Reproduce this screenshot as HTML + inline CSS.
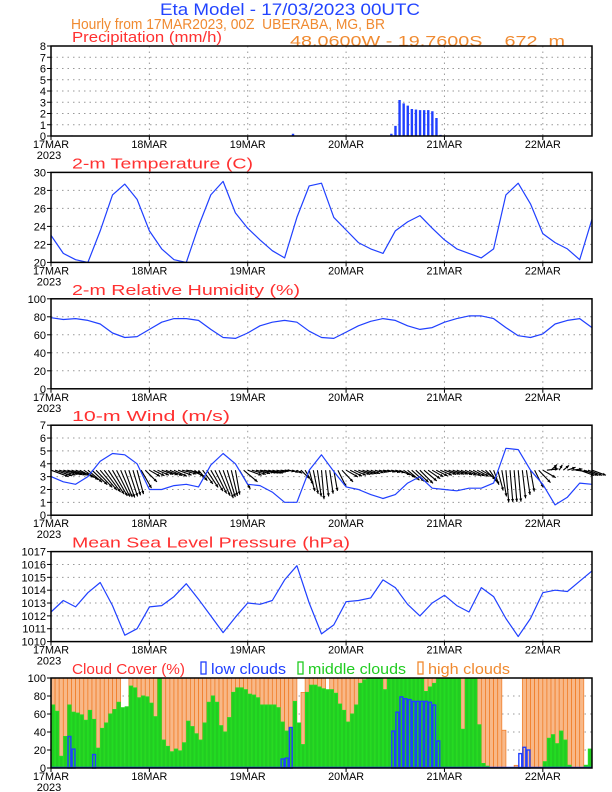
<!DOCTYPE html>
<html><head><meta charset="utf-8"><style>
body{margin:0;background:#fff;width:612px;height:792px;overflow:hidden}
svg{display:block}
text{font-family:"Liberation Sans",sans-serif}
</style></head><body>
<svg id="chart" width="612" height="792" viewBox="0 0 612 792" xmlns="http://www.w3.org/2000/svg">
<text x="160" y="15" font-size="17" fill="#2244ff" textLength="260" lengthAdjust="spacingAndGlyphs">Eta Model - 17/03/2023 00UTC</text>
<text x="71" y="29" font-size="15" fill="#f08a30" textLength="314" lengthAdjust="spacingAndGlyphs" xml:space="preserve">Hourly from 17MAR2023, 00Z  UBERABA, MG, BR</text>
<text x="290" y="46" font-size="15" fill="#f08a30" textLength="275" lengthAdjust="spacingAndGlyphs" xml:space="preserve">48.0600W - 19.7600S    672  m</text>
<g id="plots"></g>
</svg>
<script>
const hours3 = [0,3,6,9,12,15,18,21,24,27,30,33,36,39,42,45,48,51,54,57,60,63,66,69,72,75,78,81,84,87,90,93,96,99,102,105,108,111,114,117,120,123,126,129,132];
const dayLabels = ["17MAR","18MAR","19MAR","20MAR","21MAR","22MAR"];
const precip = [0,0,0,0,0,0.05,0,0,0,0,0,0,0,0,0,0,0,0,0,0,0,0,0,0,0,0,0,0,0,0,0,0,0,0,0,0,0,0,0,0,0,0,0,0,0,0,0,0,0,0,0,0,0,0,0,0,0,0,0,0.2,0,0,0,0,0,0,0,0,0,0,0,0,0,0,0,0,0,0,0,0,0,0,0,0.2,0.9,3.2,2.9,2.7,2.4,2.35,2.3,2.3,2.3,2.2,1.6,0.1,0,0,0,0,0,0,0,0,0,0,0,0,0,0,0,0,0,0,0,0,0,0,0,0.05,0,0,0,0,0,0,0,0,0,0,0,0,0,0];
const temp = [23,21,20.3,20,23.5,27.5,28.7,27,23.5,21.5,20.3,20,24,27.5,29,25.5,23.8,22.5,21.3,20.5,25,28.5,28.8,25,23.6,22.2,21.5,21,23.5,24.5,25.2,23.8,22.5,21.5,21,20.5,21.5,27.5,28.8,26.5,23.2,22.2,21.5,20.3,24.8];
const rh = [79,77,78,76,72,62,57,58,66,74,78,78,76,66,57,56,62,70,74,76,74,64,57,56,63,70,75,78,76,70,66,68,74,78,81,81,78,68,59,57,61,72,76,78,68];
const windSpeed = [3.0,2.6,2.4,3.0,4.2,4.8,4.7,4.0,2.0,2.0,2.3,2.4,2.2,3.9,4.8,4.0,2.4,2.3,1.8,1.0,1.0,3.5,4.7,3.4,2.2,2.0,1.6,1.3,1.6,2.5,3.0,2.1,2.0,1.9,2.1,2.1,2.5,5.2,5.1,3.5,2.4,0.8,1.4,2.5,2.4];
const windDir = [290,285,290,310,320,330,340,345,300,290,295,280,320,330,340,350,290,280,285,275,300,345,355,350,300,290,290,280,285,310,315,300,290,290,295,300,340,355,355,350,300,190,250,290,290];
const pressure = [1012.3,1013.2,1012.7,1013.8,1014.6,1012.8,1010.5,1011.0,1012.7,1012.8,1013.5,1014.5,1013.3,1012.0,1010.7,1011.9,1013.0,1012.9,1013.2,1014.8,1015.9,1013.0,1010.6,1011.3,1013.1,1013.2,1013.4,1014.8,1014.2,1012.9,1012.0,1013.0,1013.6,1012.8,1012.3,1014.2,1013.5,1011.8,1010.4,1011.8,1013.8,1014.0,1013.9,1014.7,1015.5];
const midCloud = [70,63,13,35,70,62,61,59,53,64, 54,22,44,50,60,65,73,67,68,91, 89,78,80,79,72,57,100,31,24,18, 21,19,28,52,46,38,31,50,73,80, 73,47,40,56,84,89,89,87,82,81, 78,70,70,70,70,67,51,41,44,74, 50,26,84,92,92,90,88,87,87,83, 71,64,51,60,70,94,98,99,99,99, 99,87,99,100,100,100,100,100,100,100, 100,85,90,94,100,100,100,100,100,100, 43,100,100,100,48,5,2,0,0,0, 0,0,0,0,0,0,0,0,0,0, 7,33,37,27,41,31,3,0,0,0,3,21];
const lowCloud = [0,0,0,0,35,21,0,0,0,0, 15,0,0,0,0,0,0,0,0,0, 0,0,0,0,0,0,0,0,0,0, 0,0,0,0,0,0,0,0,0,0, 0,0,0,0,0,0,0,0,0,0, 0,0,0,0,0,0,10,11,45,0, 0,0,0,0,0,0,0,0,0,0, 0,0,0,0,0,0,0,0,0,0, 0,0,0,41,62,79,77,76,74,74, 74,74,73,70,30,0,0,0,0,0, 0,0,0,0,0,0,0,0,0,0, 0,0,0,0,16,23,20,0,0,0, 0,0,0,0,0,0,0,0,0,0,0,0];
const highCloud = [100,100,100,100,100,100,100,100,100,100, 100,100,100,100,100,100,100,5,0,100, 100,100,100,100,100,100,100,100,100,100, 100,100,100,100,100,100,100,100,100,100, 100,100,100,100,100,100,100,100,100,100, 100,100,100,100,100,100,100,100,100,100, 39,84,100,100,100,100,100,0,100,100, 100,100,100,100,100,100,100,100,100,100, 100,100,100,100,100,100,100,100,100,100, 100,100,100,100,100,100,100,100,100,100, 100,100,100,100,100,100,100,100,100,100, 42,0,0,3,0,100,100,100,100,100, 100,100,100,100,100,100,100,100,100,100,0,0];

const NS="http://www.w3.org/2000/svg";
const g=document.getElementById('plots');
const X0=51,X1=592,HMAX=132;
const xs=h=>X0+(X1-X0)*h/HMAX;
function el(tag,attrs,parent){const e=document.createElementNS(NS,tag);for(const k in attrs)e.setAttribute(k,attrs[k]);(parent||g).appendChild(e);return e;}
function txt(s,attrs,parent){const e=el('text',attrs,parent);e.textContent=s;return e;}

function panel(i,name,title,tlen,ymin,ymax,step){
  const top=46+126.4*i,bot=top+90;
  const pg=el('g',{});
  
  
  const ys=v=>bot-(v-ymin)/(ymax-ymin)*(bot-top);
  for(let v=ymin;v<=ymax+1e-6;v+=step){
    const y=ys(v);
    if(v>ymin&&v<ymax){const gl=el('line',{x1:X0,x2:X1,y1:y,y2:y,stroke:'#999','stroke-width':1,'stroke-dasharray':'1.5,4'},pg);}
    el('line',{x1:X0-4,x2:X0,y1:y,y2:y,stroke:'#000'},pg);
    const t=txt(String(v),{x:X0-5,y:y+4,'font-size':11,'text-anchor':'end',fill:'#000'},pg);
    
    
  }
  dayLabels.forEach((d,k)=>{
    const x=xs(24*k);
    if(k>0){const vl=el('line',{x1:x,x2:x,y1:top,y2:bot,stroke:'#999','stroke-width':1,'stroke-dasharray':'1.5,4'},pg);}
    el('line',{x1:x,x2:x,y1:bot,y2:bot+4,stroke:'#000'},pg);
    const t=txt(d,{x:x,y:bot+12,'font-size':11,'text-anchor':'middle',fill:'#000','textLength':36,'lengthAdjust':'spacingAndGlyphs'},pg);
    
    
  });
  const yl=txt('2023',{x:X0-2,y:bot+23,'font-size':11,'text-anchor':'middle',fill:'#000'},pg);
  
  
  if(title){const tt=txt(title,{x:72,y:top-4,'font-size':15,fill:'#ff3030',textLength:tlen,lengthAdjust:'spacingAndGlyphs'},pg);}
  return {pg,top,bot,ys,frame:()=>{const f=el('rect',{x:X0,y:top,width:X1-X0,height:bot-top,fill:'none',stroke:'#000','stroke-width':1.5},pg);}};
}
function line(p,vals,name){
  const d=vals.map((v,k)=>(k?'L':'M')+xs(hours3[k]).toFixed(1)+','+p.ys(v).toFixed(1)).join('');
  const l=el('path',{d:d,fill:'none',stroke:'#2040ff','stroke-width':1.2,'stroke-linejoin':'round'},p.pg);
  
  
}

const p1=panel(0,'precipitation-panel','Precipitation (mm/h)',150,0,8,1);
precip.forEach((v,h)=>{ if(v>0){
  const b=el('rect',{x:xs(h)-1,y:p1.ys(v),width:2.4,height:p1.bot-p1.ys(v),fill:'#2040ff'},p1.pg);
  
  
}});
p1.frame();

const p2=panel(1,'temperature-panel','2-m Temperature (C)',181,20,30,2);
line(p2,temp,'temperature-line');p2.frame();

const p3=panel(2,'humidity-panel','2-m Relative Humidity (%)',228,0,100,20);
line(p3,rh,'humidity-line');p3.frame();

const p4=panel(3,'wind-panel','10-m Wind (m/s)',158,0,7,1);
function interp(arr,h){const k=Math.min(Math.floor(h/3),arr.length-2);const f=(h-hours3[k])/3;return arr[k]*(1-f)+arr[k+1]*f;}
for(let h=0;h<=HMAX;h++){
  const s=interp(windSpeed,h), dir=interp(windDir,h)*Math.PI/180;
  const len=s*6.2, x0=xs(h), y0=p4.ys(3.5);
  const dx=-Math.sin(dir)*len, dy=Math.cos(dir)*len;
  const x1=x0+dx,y1=y0+dy;
  const a=Math.atan2(dy,dx);
  const ag=el('g',{},p4.pg);
  
  
  el('line',{x1:x0,y1:y0,x2:x1,y2:y1,stroke:'#000','stroke-width':1.1},ag);
  const hl=3.5;
  el('path',{d:`M${x1},${y1}L${x1-hl*Math.cos(a-0.45)},${y1-hl*Math.sin(a-0.45)}L${x1-hl*Math.cos(a+0.45)},${y1-hl*Math.sin(a+0.45)}Z`,fill:'#000'},ag);
}
line(p4,windSpeed,'wind-speed-line');
p4.frame();

const p5=panel(4,'pressure-panel','Mean Sea Level Pressure (hPa)',278,1010,1017,1);
line(p5,pressure,'pressure-line');p5.frame();

const p6=panel(5,'cloud-panel','',0,0,100,20);
const ct=txt('Cloud Cover (%)',{x:72,y:p6.top-4,'font-size':15,fill:'#ff3030',textLength:113,lengthAdjust:'spacingAndGlyphs'},p6.pg);


[['low clouds','#2040ff',201,75],['middle clouds','#20cc20',298,98],['high clouds','#f08a30',418,82]].forEach(([t,c,x,w])=>{
  const lg=el('g',{},p6.pg);
  
  
  el('rect',{x:x,y:p6.top-16,width:5,height:12,fill:'none',stroke:c,'stroke-width':1.3},lg);
  txt(t,{x:x+10,y:p6.top-4,'font-size':15,fill:c,textLength:w,lengthAdjust:'spacingAndGlyphs'},lg);
});
const bw=(X1-X0)/HMAX;
highCloud.forEach((v,h)=>{ if(v>0){
  const b=el('rect',{x:xs(h),y:p6.ys(v),width:bw,height:p6.bot-p6.ys(v),fill:'#f8b888',stroke:'#f07820','stroke-width':0.7},p6.pg);
  
  
}});
midCloud.forEach((v,h)=>{ if(v>0){
  const b=el('rect',{x:xs(h)+0.4,y:p6.ys(v),width:bw-0.8,height:p6.bot-p6.ys(v),fill:'#22cc22',stroke:'#22dd22','stroke-width':1},p6.pg);
  
  
}});
lowCloud.forEach((v,h)=>{ if(v>0){
  const b=el('rect',{x:xs(h)+0.6,y:p6.ys(v),width:bw-1.2,height:p6.bot-p6.ys(v),fill:'none',stroke:'#2040ff','stroke-width':1.4},p6.pg);
  
  
}});
el('line',{x1:X0,x2:X1,y1:p6.bot-0.5,y2:p6.bot-0.5,stroke:'#2040ff','stroke-width':1.5},p6.pg);
p6.frame();
</script>
</body></html>
